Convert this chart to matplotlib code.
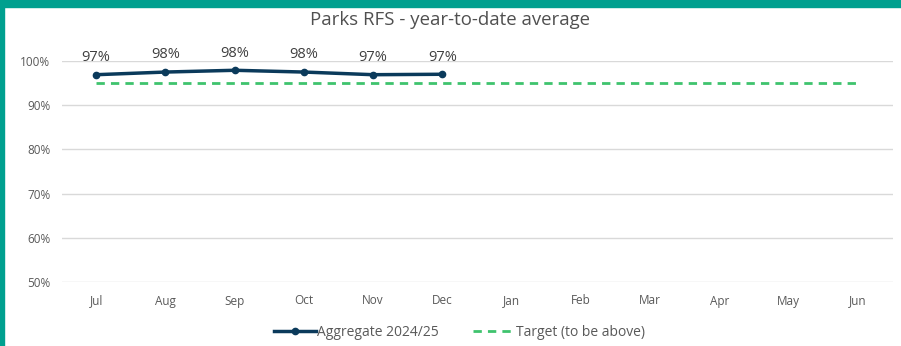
import matplotlib.pyplot as plt
from matplotlib.ticker import FuncFormatter

plt.rcParams['font.family'] = ['Open Sans', 'DejaVu Sans']

# monthly data, financial year Jul-Jun
months = ['Jul', 'Aug', 'Sep', 'Oct', 'Nov', 'Dec',
          'Jan', 'Feb', 'Mar', 'Apr', 'May', 'Jun']
aggregate = [96.9, 97.5, 97.9, 97.5, 96.9, 97.0]
target = [95] * 12

fig = plt.figure(figsize=(9.01, 3.46), dpi=100)

# teal frame around the chart (top and left edges)
fig.patches.append(plt.Rectangle((0, 1 - 7 / 346), 1, 7 / 346, transform=fig.transFigure,
                                 color='#00A08F', zorder=0))
fig.patches.append(plt.Rectangle((0, 0), 4 / 901, 1, transform=fig.transFigure,
                                 color='#00A08F', zorder=0))

ax = fig.add_axes([61.5 / 901, 1 - 282 / 346, (892.5 - 61.5) / 901, (282 - 61) / 346])

x = range(len(months))
ax.plot(x, target, color='#1DB954', lw=2, ls=(0, (3, 2.2)), alpha=0.85,
        label='Target (to be above)', zorder=2)
ax.plot(x[:len(aggregate)], aggregate, color='#0B3A5B', lw=2.5, marker='o', ms=4.5,
        label='Aggregate 2024/25', zorder=3)

for i, v in enumerate(aggregate):
    ax.annotate('%d%%' % round(v), (i, v), xytext=(0, 7), textcoords='offset points',
                ha='center', va='bottom', fontsize=10.5, color='#404040')

ax.set_xlim(-0.5, len(months) - 0.5)
ax.set_ylim(50, 100)
ax.set_yticks(range(50, 101, 10))
ax.yaxis.set_major_formatter(FuncFormatter(lambda v, p: '%d%%' % v))
ax.set_xticks(list(x))
ax.set_xticklabels(months)
ax.tick_params(length=0, labelsize=8.5, colors='#595959', pad=9)
ax.tick_params(axis='y', pad=8)
ax.grid(axis='y', color='#D9D9D9', lw=1)
ax.set_axisbelow(True)
for s in ax.spines.values():
    s.set_visible(False)

fig.text(0.5, 1 - 20 / 346, 'Parks RFS - year-to-date average', ha='center', va='center',
         fontsize=13.4, color='#505050')

handles, labels = ax.get_legend_handles_labels()
fig.legend(handles[::-1], labels[::-1], loc='center', bbox_to_anchor=(0.51, 1 - 332 / 346),
           ncol=2, frameon=False, fontsize=10, labelcolor='#595959',
           handlelength=3.0, handletextpad=0.1, columnspacing=2.4)

fig.savefig('out.png', dpi=100)
